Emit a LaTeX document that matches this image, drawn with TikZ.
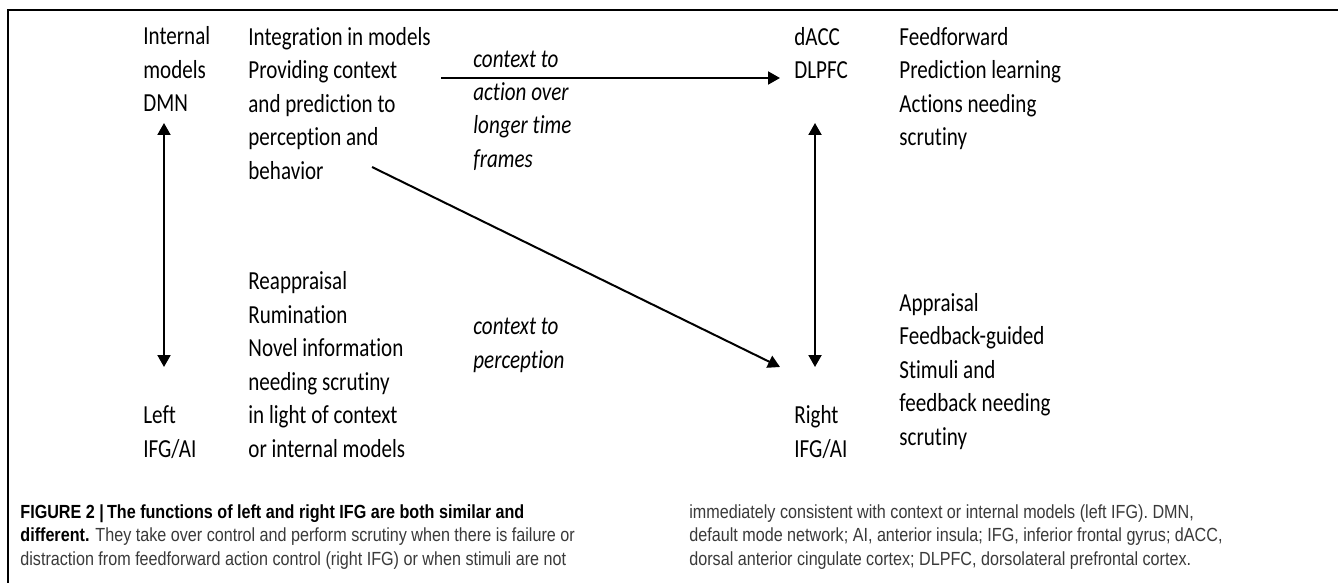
\documentclass[tikz,border=0pt]{standalone}
\usepackage{fontspec}
\setmainfont[FakeStretch=0.81,Ligatures=NoCommon]{Carlito}
\newfontfamily\capfont[FakeStretch=0.85]{Liberation Sans}
\usetikzlibrary{arrows.meta}
\definecolor{capgray}{HTML}{3A3A3A}
\begin{document}
\begin{tikzpicture}[x=0.5pt,y=-0.5pt,
  lbl/.style={font=\fontsize{13}{16.75}\selectfont, inner sep=0pt, align=left, anchor=base west},
  ctx/.style={lbl, font=\fontsize{13}{16.65}\selectfont\itshape},
  captxt/.style={font=\capfont\fontsize{9.5}{11.75}\selectfont, text=capgray, inner sep=0pt, align=left, anchor=base west},
  link/.style={line width=1pt, -{Triangle[length=6pt,width=6.5pt]}},
  twoway/.style={line width=1pt, {Triangle[length=6pt,width=6.5pt]}-{Triangle[length=6pt,width=6.5pt]}}]
\useasboundingbox (0,0) rectangle (1338,583);
\fill[white] (0,0) rectangle (1338,583);
% frame
\draw[line width=0.8pt] (8,583) -- (8,10) -- (1338,10);

% multi-line labels are placed by the baseline of their last line
% left column: regions
\node[lbl] (dmn) at (143,112) {Internal\\models\\DMN};
\node[lbl] (lifg) at (143,457) {Left\\IFG/AI};
% left column: functions
\node[lbl] (integ) at (248,179) {Integration in models\\Providing context\\and prediction to\\perception and\\behavior};
\node[lbl] (reapp) at (248,457) {Reappraisal\\Rumination\\Novel information\\needing scrutiny\\in light of context\\or internal models};

% link labels
\node[ctx] (ctxact) at (473,167) {context to\\action over\\longer time\\frames};
\node[ctx] (ctxper) at (473,368) {context to\\perception};

% right column: regions
\node[lbl] (dacc) at (794,78.5) {dACC\\DLPFC};
\node[lbl] (rifg) at (794,457) {Right\\IFG/AI};
% right column: functions
\node[lbl] (ffwd) at (899,145.5) {Feedforward\\Prediction learning\\Actions needing\\scrutiny};
\node[lbl] (appr) at (899,445) {Appraisal\\Feedback-guided\\Stimuli and\\feedback needing\\scrutiny};

% connector end points
\coordinate (lt) at (164,123);
\coordinate (lb) at (164,367);
\coordinate (rt) at (815,123);
\coordinate (rb) at (815,367);
\coordinate (hs) at (441,78);
\coordinate (he) at (780,78);
\coordinate (ds) at (372,167);
\coordinate (de) at (780,367);

\draw[twoway] (lt) -- (lb);
\draw[twoway] (rt) -- (rb);
\draw[link] (hs) -- (he);
\draw[link] (ds) -- (de);

% caption
\node[captxt] (capl) at (20,565) {\textcolor{black}{\bfseries FIGURE 2 |\,The functions of left and right IFG are both similar and}\\
\textcolor{black}{\bfseries different.} They take over control and perform scrutiny when there is failure or\\
distraction from feedforward action control (right IFG) or when stimuli are not};
\node[captxt] (capr) at (689,565) {immediately consistent with context or internal models (left IFG). DMN,\\
default mode network; AI, anterior insula; IFG, inferior frontal gyrus; dACC,\\
dorsal anterior cingulate cortex; DLPFC, dorsolateral prefrontal cortex.};
\end{tikzpicture}
\end{document}
